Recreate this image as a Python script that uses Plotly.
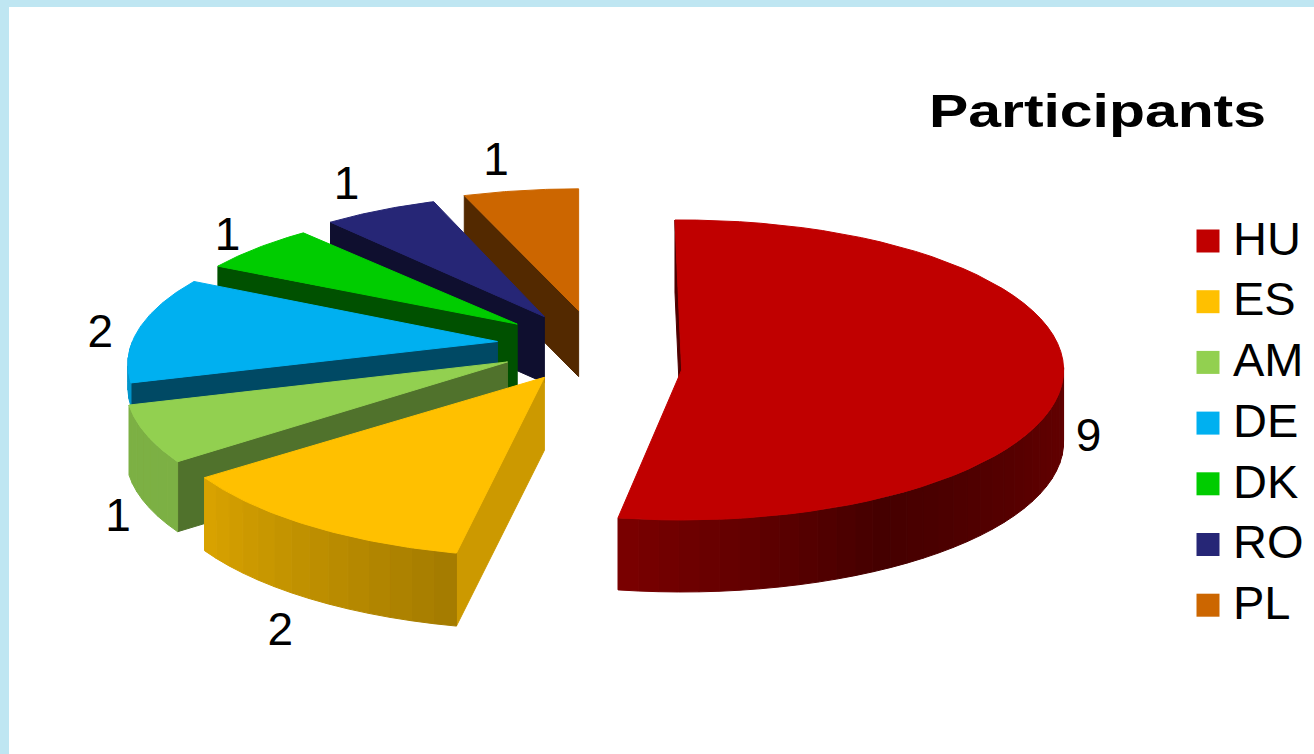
import numpy as np
import plotly.graph_objects as go

categories = ["HU", "ES", "AM", "DE", "DK", "RO", "PL"]
values = [9, 2, 1, 2, 1, 1, 1]
title_text = "Participants"

# styles
colors = ["#c00000", "#ffc000", "#92d050", "#00b0f0", "#00cc00", "#262676", "#cc6600"]
face_shade = [0.42, 0.80, 0.55, 0.42, 0.40, 0.40, 0.41]
pull = [85, 100, 100, 100, 100, 100, 100]
drop = [22, 0, 0, 0, 2, 4, 3]
rot = [-1, 0.8, 0, 0, 0, 0, 0]
persp = [0.0, 0.16, 0.16, 0.16, 0.16, 0.16, 0.16]
rad_x = [382, 385, 377, 365, 360, 360, 372]
rad_y = [150, 155, 151, 145, 140, 145, 145]
depth = [72, 73, 70, 24, 68, 66, 66]
label_off = [(26, 58), (-29, 108), (-28, 85), (-39, 7), (-30, -9), (-34, -23), (-25, -27)]
CX, CY, TILT = 597, 345, 0.38
FONT = "Liberation Sans, Arial, sans-serif"


def shade(col, f):
    r, g, b = int(col[1:3], 16), int(col[3:5], 16), int(col[5:7], 16)
    return f"rgb({int(r*f)},{int(g*f)},{int(b*f)})"


def wall_factor(deg):
    return float(np.interp(deg, [90, 105, 150, 190, 232, 270], [0.5, 0.5, 0.36, 0.64, 0.85, 0.85]))


fracs = np.array(values) / sum(values)
ends = np.cumsum(fracs) * 360
starts = ends - fracs * 360

fig = go.Figure()


def poly(xs, ys, color):
    fig.add_trace(go.Scatter(x=list(xs) + [xs[0]], y=list(ys) + [ys[0]], mode="lines", fill="toself",
                             fillcolor=color, line=dict(color=color, width=1),
                             hoverinfo="skip", showlegend=False))


def apex(i):
    phi = np.radians((starts[i] + ends[i]) / 2)
    return CX + pull[i] * np.sin(phi), CY - pull[i] * TILT * np.cos(phi) + drop[i]


def rim(i, deg):
    t = np.radians(deg + rot[i])
    ax, ay = apex(i)
    s = 1 - persp[i] * np.cos(t)
    return ax + rad_x[i] * s * np.sin(t), ay - rad_y[i] * s * np.cos(t)


def draw(i):
    ax, ay = apex(i)
    col = colors[i]
    a0, a1 = starts[i], ends[i]
    d = depth[i]
    # cut face on the start edge
    x0, y0 = rim(i, a0)
    poly([x0, ax, ax, x0], [y0, ay, ay + d, y0 + d], shade(col, face_shade[i]))
    # outer wall
    lo, hi = max(a0, 90), min(a1, 270)
    if hi > lo:
        n = max(2, int((hi - lo) / 3))
        grid = np.linspace(lo, hi, n + 1)
        for d0, d1 in zip(grid[:-1], grid[1:]):
            p0, p1 = rim(i, d0), rim(i, d1)
            poly([p0[0], p1[0], p1[0], p0[0]], [p0[1], p1[1], p1[1] + d, p0[1] + d],
                 shade(col, wall_factor((d0 + d1) / 2)))
    # top
    arc = [rim(i, a) for a in np.linspace(a0, a1, 60)]
    poly([ax] + [p[0] for p in arc], [ay] + [p[1] for p in arc], col)


for i in [6, 5, 4, 3, 2, 1, 0]:
    draw(i)

# data labels
lab_x, lab_y = [], []
for i in range(len(values)):
    px, py = rim(i, (starts[i] + ends[i]) / 2)
    lab_x.append(px + label_off[i][0])
    lab_y.append(py + label_off[i][1])
fig.add_trace(go.Scatter(x=lab_x, y=lab_y, mode="text", text=[str(v) for v in values],
                         textposition="middle center",
                         textfont=dict(family=FONT, size=46, color="#000000"),
                         hoverinfo="skip", showlegend=False))

# legend
leg_y = [241 + 60.7 * k for k in range(len(categories))]
fig.add_trace(go.Scatter(x=[1208] * len(categories), y=leg_y, mode="markers",
                         marker=dict(symbol="square", size=23, color=colors, line=dict(width=0)),
                         hoverinfo="skip", showlegend=False))
fig.add_trace(go.Scatter(x=[1233] * len(categories), y=[v + 2 for v in leg_y], mode="text", text=categories,
                         textposition="middle right",
                         textfont=dict(family=FONT, size=47, color="#000000"),
                         hoverinfo="skip", showlegend=False))

fig.update_layout(
    width=1314, height=754,
    margin=dict(l=9, r=0, t=7, b=0, autoexpand=False),
    paper_bgcolor="#bfe6f2", plot_bgcolor="#ffffff",
    title=dict(text=title_text, x=1096 / 1314, y=1 - 105 / 754, xanchor="center", yanchor="middle",
               xref="paper", yref="paper",
               font=dict(family=FONT, size=47, color="#000000", weight="bold")),
    xaxis=dict(range=[9, 1314], visible=False, fixedrange=True),
    yaxis=dict(range=[754, 7], visible=False, fixedrange=True),
    showlegend=False,
)
post = """document.body.style.margin='0';
var t=document.querySelector('.gtitle');
if(t){t.setAttribute('textLength','337');t.setAttribute('lengthAdjust','spacingAndGlyphs');}
"""
fig.write_html("out.html", post_script=post, config=dict(displayModeBar=False))
